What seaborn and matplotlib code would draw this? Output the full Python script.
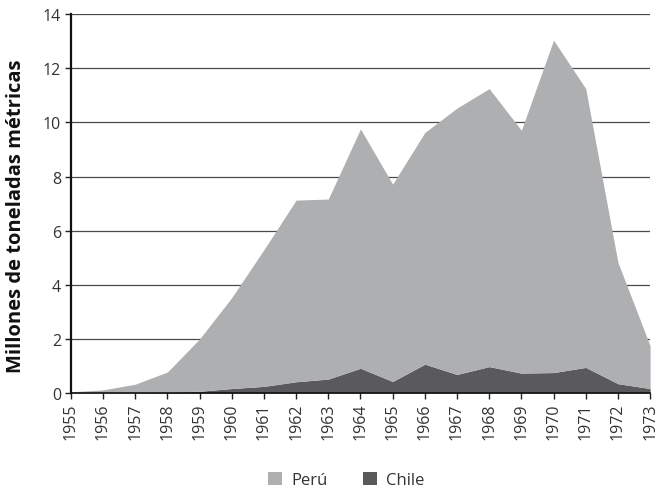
"""
Capturas de anchoveta, Perú y Chile, 1955-1973 (área apilada).
"""

import numpy as np
import pandas as pd
import matplotlib
matplotlib.use("Agg")
import matplotlib.pyplot as plt
from matplotlib.patches import Patch
import seaborn as sns

years = list(range(1955, 1974))
# millones de toneladas métricas
chile = [0.00, 0.00, 0.01, 0.03, 0.07, 0.17, 0.25, 0.42, 0.52, 0.92,
         0.43, 1.07, 0.69, 0.98, 0.74, 0.76, 0.95, 0.35, 0.17]
peru = [0.05, 0.12, 0.32, 0.75, 1.93, 3.36, 5.05, 6.71, 6.65, 8.84,
        7.29, 8.56, 9.84, 10.27, 8.97, 12.28, 10.30, 4.48, 1.58]

series_names = ["Perú", "Chile"]
colors = {"Perú": "#aeafb1", "Chile": "#5a5a5c"}

df = pd.DataFrame({"year": years, "Perú": peru, "Chile": chile})

sns.set_theme(style="white")
plt.rcParams["font.family"] = ["Open Sans", "DejaVu Sans"]

fig = plt.figure(figsize=(6.56, 4.89), dpi=100)
ax = fig.add_axes([0.108, 0.194, 0.883, 0.775])

for y in range(2, 15, 2):
    ax.axhline(y, color="#4a4a4a", lw=0.9, zorder=0)

ax.stackplot(df["year"], df["Chile"], df["Perú"],
             colors=[colors["Chile"], colors["Perú"]], lw=0, zorder=1)

ax.set_xlim(1955, 1973)
ax.set_ylim(0, 14)
ax.set_xticks(years)
ax.set_xticklabels([str(y) for y in years], rotation=90, fontsize=11.5, color="#333333")
ax.set_yticks(range(0, 15, 2))
ax.set_yticklabels([str(v) for v in range(0, 15, 2)], fontsize=11.5, color="#333333")
ax.tick_params(axis="both", direction="out", length=4, width=1, color="#222222",
               bottom=True, left=True, pad=3)

for side in ["top", "right"]:
    ax.spines[side].set_visible(False)
ax.spines["left"].set_color("#111111")
ax.spines["left"].set_linewidth(1.6)
ax.spines["bottom"].set_color("#111111")
ax.spines["bottom"].set_linewidth(1.2)

ax.set_ylabel("Millones de toneladas métricas", fontsize=14.5, fontweight="bold",
              color="#111111")
ax.yaxis.set_label_coords(-0.078, 0.47)

handles = [Patch(facecolor=colors[n], edgecolor="none") for n in series_names]
fig.legend(handles, series_names, loc="center", bbox_to_anchor=(0.528, 0.016),
           ncol=2, frameon=False, fontsize=12, handlelength=0.85, handleheight=0.85,
           handletextpad=0.55, columnspacing=2.1, labelcolor="#333333",
           borderpad=0)

fig.savefig("out.png", dpi=100)
